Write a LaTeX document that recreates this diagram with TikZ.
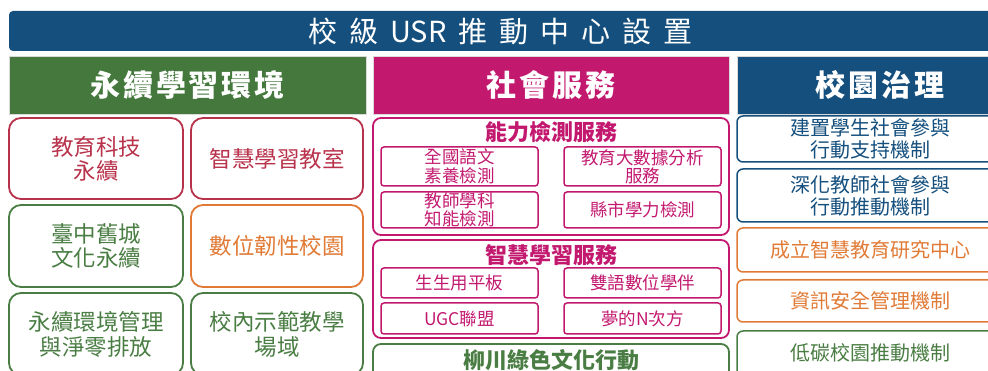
\documentclass[tikz,border=0pt]{standalone}
\usepackage{fontspec}
\setmainfont{Noto Sans CJK TC}
\definecolor{navy}{HTML}{144F7D}
\definecolor{hgreen}{HTML}{44783D}
\definecolor{tgreen}{HTML}{4A7D43}
\definecolor{mag}{HTML}{C2196F}
\definecolor{crim}{HTML}{B8324B}
\definecolor{orng}{HTML}{E07A35}
\newcommand{\tk}{\kern12pt}
\begin{document}
\begin{tikzpicture}[x=1pt,y=-1pt,
  hdr/.style={fill=#1, draw=black!15, line width=0.6pt, text=white, inner sep=0,
    font=\fontsize{30}{32}\selectfont\bfseries\addfontfeature{LetterSpace=9}},
  lbox/.style={draw=#1, text=#1, line width=1.8pt, rounded corners=12pt, align=center, inner sep=0,
    font=\fontsize{22.5}{24}\selectfont},
  obox/.style={draw=#1, line width=1.8pt, rounded corners=8pt, inner sep=0},
  otitle/.style={text=#1, inner sep=0, font=\fontsize{22}{23}\selectfont\bfseries},
  ibox/.style={draw=mag, text=mag, line width=1.5pt, rounded corners=3pt, align=center, inner sep=0,
    minimum width=157pt, font=\fontsize{17.5}{18.5}\selectfont},
  rbox/.style={draw=#1, text=#1, line width=1.5pt, rounded corners=6pt, align=center, inner sep=0,
    minimum width=266pt, font=\fontsize{20}{22}\selectfont},
  rtext/.style={text=#1, inner sep=0, align=center, font=\fontsize{20}{22}\selectfont}]
\useasboundingbox (0,0) rectangle (988,371);
\clip (0,0) rectangle (988,371);
% title banner
\node[fill=navy, rounded corners=4pt, minimum width=983pt, minimum height=40pt, inner sep=0,
  text=white, font=\fontsize{29}{30}\selectfont] (title) at (500.5,31)
  {校\tk 級\tk USR\tk 推\tk 動\tk 中\tk 心\tk 設\tk 置};
% column headers
\node[hdr=hgreen, minimum width=357pt, minimum height=58pt] (h1) at (187.5,85) {永續學習環境};
\node[hdr=mag, minimum width=356pt, minimum height=58pt] (h2) at (551,85) {社會服務};
\node[hdr=navy, minimum width=286pt, minimum height=58pt] (h3) at (880,85) {校園治理};
% left column
\node[lbox=crim, minimum width=174pt, minimum height=81pt] (l11) at (96,158.5) {教育科技\\永續};
\node[lbox=crim, minimum width=172pt, minimum height=81pt] (l12) at (277,158.5) {智慧學習教室};
\node[lbox=tgreen, minimum width=174pt, minimum height=82pt] (l21) at (96,246) {臺中舊城\\文化永續};
\node[lbox=orng, minimum width=172pt, minimum height=82pt] (l22) at (277,246) {數位韌性校園};
\node[lbox=tgreen, minimum width=174pt, minimum height=82pt, font=\fontsize{22.5}{25}\selectfont] (l31) at (96,334) {永續環境管理\\與淨零排放};
\node[lbox=tgreen, minimum width=172pt, minimum height=82pt, font=\fontsize{22.5}{25}\selectfont] (l32) at (277,334) {校內示範教學\\場域};
% middle column
\node[obox=mag, minimum width=356pt, minimum height=117pt] (m1) at (551,176.5) {};
\node[otitle=mag] (m1t) at (551,132) {能力檢測服務};
\node[ibox, minimum height=39pt] (a1) at (459.5,166.5) {全國語文\\素養檢測};
\node[ibox, minimum height=39pt] (a2) at (642.5,166.5) {教育大數據分析\\服務};
\node[ibox, minimum height=36pt] (a3) at (459.5,210) {教師學科\\知能檢測};
\node[ibox, minimum height=36pt] (a4) at (642.5,210) {縣市學力檢測};
\node[obox=mag, minimum width=356pt, minimum height=98pt] (m2) at (551,289) {};
\node[otitle=mag] (m2t) at (551,255) {智慧學習服務};
\node[ibox, minimum height=30pt] (b1) at (459.5,283) {生生用平板};
\node[ibox, minimum height=30pt] (b2) at (642.5,283) {雙語數位學伴};
\node[ibox, minimum height=31pt] (b3) at (459.5,318.5) {UGC聯盟};
\node[ibox, minimum height=31pt] (b4) at (642.5,318.5) {夢的N次方};
\node[obox=tgreen, minimum width=356pt, minimum height=56pt] (m3) at (551,372) {};
\node[otitle=tgreen] (m3t) at (551,360) {柳川綠色文化行動};
% right column
\node[rbox=navy, minimum height=46pt] (r1) at (870,139) {建置學生社會參與\\行動支持機制};
\node[rbox=navy, minimum height=53pt] (r2) at (870,195.5) {深化教師社會參與\\行動推動機制};
\node[rbox=orng, minimum height=44pt] (r3) at (870,250) {成立智慧教育研究中心};
\node[rbox=orng, minimum height=42pt] (r4) at (870,301) {資訊安全管理機制};
\node[rbox=tgreen, minimum height=59pt] (r5) at (870,360.5) {};
\node[rtext=tgreen] (r5t) at (870,353) {低碳校園推動機制};
\end{tikzpicture}
\end{document}
